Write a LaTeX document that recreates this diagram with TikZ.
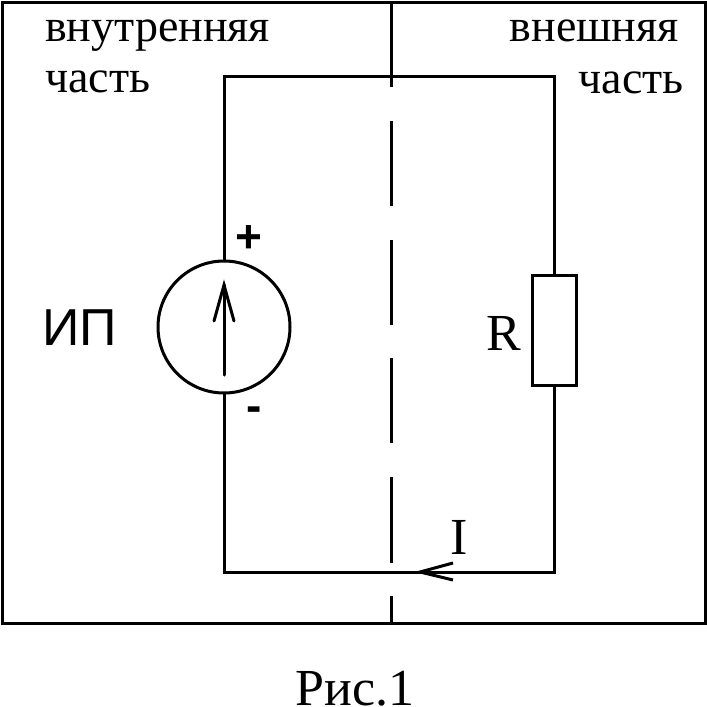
\documentclass[tikz,border=0pt]{standalone}
\usepackage{fontspec}
\setmainfont{Liberation Serif}
\newfontfamily\sansf{Liberation Sans}
\tikzset{
  wire/.style={line width=3pt,line join=miter},
  thin wire/.style={line width=2.7pt},
  serif text/.style={inner sep=0pt,font=\fontsize{46}{46}\selectfont},
  label text/.style={inner sep=0pt,font=\fontsize{52}{52}\selectfont},
  sans text/.style={inner sep=0pt,font=\sansf\fontsize{52}{52}\selectfont},
  pole/.style={inner sep=0pt,font=\sansf\bfseries\fontsize{46}{46}\selectfont},
  source/.style={circle,draw,line width=3pt,minimum size=132pt,inner sep=0pt,fill=white},
  load/.style={rectangle,draw,line width=3pt,minimum width=44pt,minimum height=110pt,inner sep=0pt,fill=white}
}
\begin{document}
\begin{tikzpicture}[x=1pt,y=-1pt]
\useasboundingbox (0,0) rectangle (707,707);
\fill[white] (0,0) rectangle (707,707);
\coordinate (tl) at (224,76);
\coordinate (tr) at (554,76);
\coordinate (bl) at (224,572);
\coordinate (br) at (554,572);
\coordinate (itip) at (420,572);
\coordinate (ia) at (453,563);
\coordinate (ib) at (453,580);
\coordinate (stail) at (224,375);
\coordinate (stip) at (224,285);
\coordinate (sa) at (214,321);
\coordinate (sb) at (234,321);
\draw[wire] (2,2) rectangle (705,623);
\draw[thin wire] (391.5,2) -- (391.5,87);
\draw[thin wire] (391.5,121) -- (391.5,206);
\draw[thin wire] (391.5,240) -- (391.5,325);
\draw[thin wire] (391.5,358) -- (391.5,443);
\draw[thin wire] (391.5,477) -- (391.5,563);
\draw[thin wire] (391.5,596) -- (391.5,623);
\draw[wire] (tl) -- (tr) -- (br) -- (bl) -- cycle;
\node[source] (src) at (224,327) {};
\node[load] (res) at (554,330) {};
\draw[wire,line cap=round] (stail) -- (stip);
\draw[wire,line cap=round] (sa) -- (stip) -- (sb);
\draw[wire] (ia) -- (itip) -- (ib);
\node[serif text,anchor=base west] (t1) at (45,41) {внутренняя};
\node[serif text,anchor=base west] (t2) at (45,92) {часть};
\node[serif text,anchor=base east] (t3) at (679,41) {внешняя};
\node[serif text,anchor=base east] (t4) at (684,93) {часть};
\node[sans text,anchor=base west] (ip) at (42,345) {ИП};
\node[pole] (plus) at (249,239) {+};
\node[pole] (minus) at (254,414) {-};
\node[label text,anchor=base] (r) at (504,350) {R};
\node[label text,anchor=base] (i) at (459,554) {I};
\node[label text,anchor=base] (cap) at (355,705) {Рис.1};
\end{tikzpicture}
\end{document}
